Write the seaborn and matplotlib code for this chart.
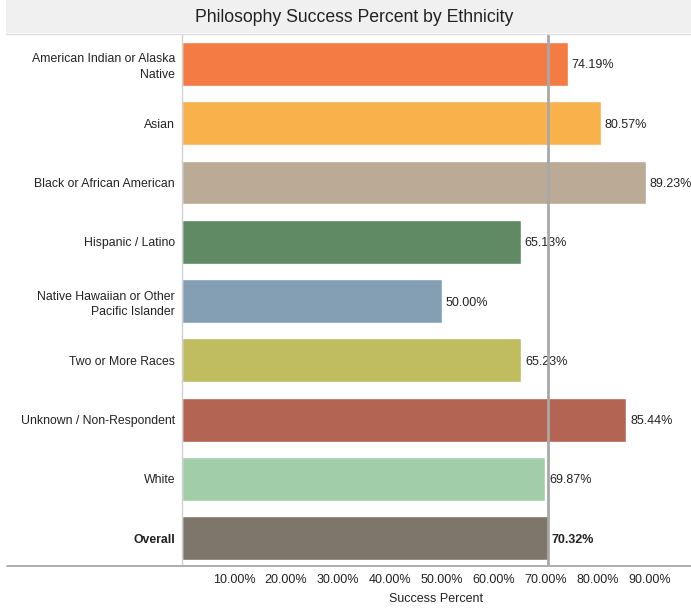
import matplotlib
matplotlib.use("Agg")
import matplotlib.pyplot as plt
from matplotlib.lines import Line2D
from matplotlib.patches import Rectangle
import seaborn as sns
import pandas as pd

# Success percent for each ethnicity group
ethnicities = [
    "American Indian or Alaska\nNative",
    "Asian",
    "Black or African American",
    "Hispanic / Latino",
    "Native Hawaiian or Other\nPacific Islander",
    "Two or More Races",
    "Unknown / Non-Respondent",
    "White",
    "Overall",
]
success_pct = [74.19, 80.57, 89.23, 65.13, 50.00, 65.23, 85.44, 69.87, 70.32]
bar_colors = ["#F47B43", "#F9B14C", "#BAAA96", "#608A64", "#849FB4",
              "#BFBD60", "#B46452", "#A2CDA9", "#7E756B"]
overall_pct = 70.32
x_ticks = [0, 10, 20, 30, 40, 50, 60, 70, 80, 90]

df = pd.DataFrame({"Ethnicity": ethnicities, "Success Percent": success_pct})

sns.set_theme(style="white")
plt.rcParams["font.family"] = ["Liberation Sans", "DejaVu Sans"]

W, H = 691, 609
fig = plt.figure(figsize=(W / 100, H / 100), dpi=100)
ax = fig.add_axes([182 / W, 1 - 566 / H, (W - 182) / W, (566 - 34) / H])

sns.barplot(data=df, x="Success Percent", y="Ethnicity", hue="Ethnicity",
            palette=bar_colors, order=ethnicities, hue_order=ethnicities,
            orient="h", width=0.74, legend=False, saturation=1, ax=ax)

ax.set_xlim(0, 97.9)
ax.set_ylim(len(ethnicities) - 1 + 0.47, -0.506)

# Value labels at the end of each bar
for i, v in enumerate(success_pct):
    bold = ethnicities[i] == "Overall"
    ax.text(v + 0.75, i, f"{v:.2f}%", va="center_baseline", ha="left", fontsize=9,
            color="#222222", fontweight="bold" if bold else "normal", zorder=3)

# Overall reference line
ax.axvline(overall_pct, color="#A8A8A8", lw=2, zorder=5)

ax.set_xticks(x_ticks)
ax.set_xticklabels([""] + [f"{t:.2f}%" for t in x_ticks[1:]])
ax.tick_params(axis="x", length=4, width=0.8, color="#BBBBBB", labelsize=9,
               labelcolor="#222222", pad=2)
ax.tick_params(axis="y", length=0, labelsize=8.8, labelcolor="#222222", pad=5)
for lab in ax.get_yticklabels():
    lab.set_linespacing(1.4)
    if lab.get_text() == "Overall":
        lab.set_fontweight("bold")

ax.set_xlabel("Success Percent", fontsize=9, color="#222222", labelpad=5)
ax.set_ylabel("")

for side in ["top", "right", "bottom"]:
    ax.spines[side].set_visible(False)
ax.spines["left"].set_color("#D0D0D0")
ax.spines["left"].set_linewidth(1)

# Bottom axis rule extends under the category labels
fig.add_artist(Line2D([7 / W, 1], [1 - 566 / H, 1 - 566 / H],
                      color="#A8A8A8", lw=1.3, transform=fig.transFigure))

# Title band
fig.add_artist(Rectangle((6 / W, 1 - 33 / H), 1, 33 / H, transform=fig.transFigure,
                         facecolor="#F0F0F0", edgecolor="none", zorder=0))
fig.add_artist(Line2D([6 / W, 1], [1 - 33.5 / H, 1 - 33.5 / H],
                      color="#DDDDDD", lw=1, transform=fig.transFigure))
fig.text(354 / W, 1 - 17 / H, "Philosophy Success Percent by Ethnicity",
         ha="center", va="center", fontsize=12.7, color="#222222")

fig.savefig("out.png", dpi=100)
